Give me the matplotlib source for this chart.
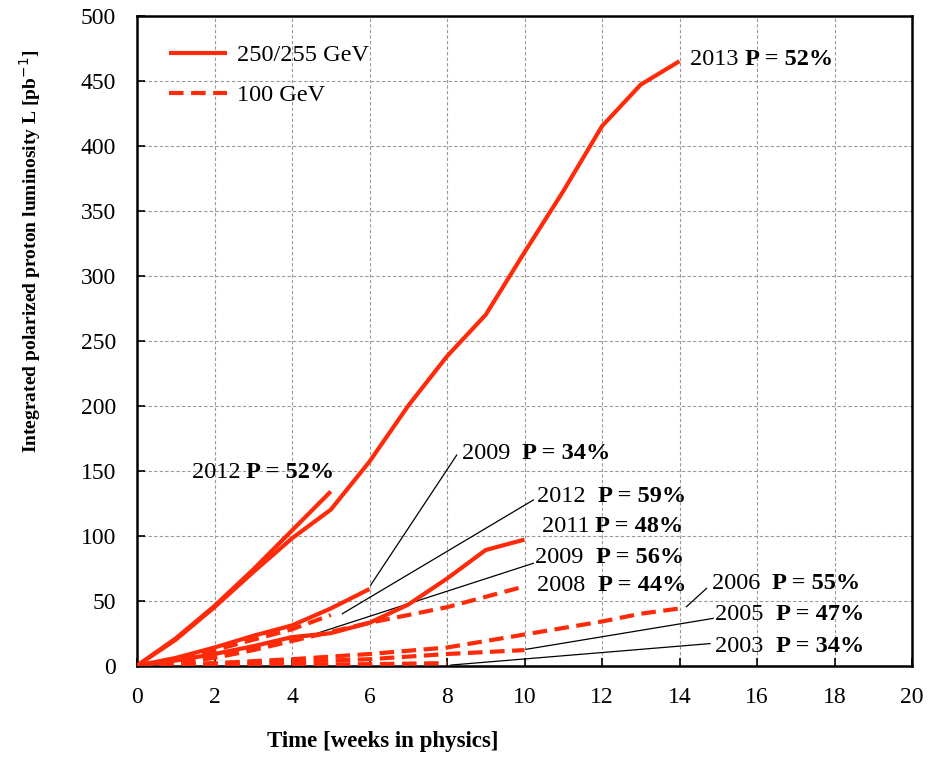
import matplotlib
matplotlib.use("Agg")
import matplotlib.pyplot as plt

plt.rcParams['font.family'] = ['Liberation Serif', 'DejaVu Serif']

RED = '#ff2a0a'

# ---- data (weeks, integrated luminosity pb^-1) ----
w_2013 = [0, 1, 2, 3, 4, 5, 6, 7, 8, 9, 10, 11, 12, 13, 14]
l_2013 = [0, 20, 45, 72, 98, 120, 157, 200, 238, 270, 318, 365, 415, 447, 465]

w_2012a = [0, 1, 2, 3, 4, 5]
l_2012a = [0, 21, 46, 74, 104, 134]

w_2009a = [0, 1, 2, 3, 4, 5, 6]
l_2009a = [0, 6, 14, 23, 31, 44, 59]

w_2011 = [0, 1, 2, 3, 4, 5, 6, 7, 8, 9, 10]
l_2011 = [0, 4, 9, 15, 22, 25, 33, 47, 67, 89, 97]

w_2012b = [0, 1, 2, 3, 4, 5]
l_2012b = [0, 5, 12, 20, 28, 39]

w_2009b = [0, 1, 2, 3, 4.2]
l_2009b = [0, 4, 9, 14, 20.5]

w_2008 = [0, 1, 2, 3, 4, 5, 6, 7, 8, 9, 10]
l_2008 = [0, 2, 6, 12, 19, 26, 33, 39, 45, 53, 61]

w_2006 = [0, 2, 4, 6, 8, 10, 12, 13, 14]
l_2006 = [0, 2, 5, 9, 14, 24, 34, 40, 44]

w_2005 = [0, 2, 4, 6, 8, 10]
l_2005 = [0, 1, 3, 5, 9, 12]

w_2003 = [0, 2, 4, 6, 8]
l_2003 = [0, 0.3, 0.8, 1.2, 2]

solid_runs = [(w_2013, l_2013), (w_2012a, l_2012a), (w_2009a, l_2009a), (w_2011, l_2011)]
dashed_runs = [(w_2012b, l_2012b), (w_2009b, l_2009b), (w_2008, l_2008),
               (w_2006, l_2006), (w_2005, l_2005), (w_2003, l_2003)]

label_years = ['2013', '2012', '2009 ', '2012 ', '2011', '2009 ', '2008 ', '2006 ', '2005 ', '2003 ']
label_pols = ['P = 52%', 'P = 52%', 'P = 34%', 'P = 59%', 'P = 48%', 'P = 56%', 'P = 44%',
              'P = 55%', 'P = 47%', 'P = 34%']

x_ticks = [0, 2, 4, 6, 8, 10, 12, 14, 16, 18, 20]
y_ticks = [0, 50, 100, 150, 200, 250, 300, 350, 400, 450, 500]

# ---- layout ----
label_pos = [(14.27, 466), (1.41, 149), (8.38, 163), (10.33, 130), (10.44, 107),
             (10.27, 83), (10.33, 62), (14.83, 63), (14.92, 39), (14.92, 14.6)]
leaders = [((6.03, 62), (8.25, 162)),
           ((5.3, 40), (10.23, 127.5)),
           ((4.19, 20.5), (10.23, 78.8)),
           ((14.18, 45.4), (14.7, 59.5)),
           ((10.04, 12.6), (14.87, 36.4)),
           ((8.1, 0.5), (14.79, 17))]

fig = plt.figure(figsize=(9.31, 7.63), dpi=100)
ax = fig.add_axes([137/931, 1 - 665.7/763, 775/931, 650/763])

ax.set_xlim(0, 20)
ax.set_ylim(0, 500)
ax.set_xticks(x_ticks)
ax.set_yticks(y_ticks)
ax.grid(True, color='#9a9a9a', linestyle=(0, (3, 2)), linewidth=0.8)
ax.set_axisbelow(True)

for (a, b), (c, d) in leaders:
    ax.plot([a, c], [b, d], color='black', lw=0.9, zorder=2)

for i, (w, l) in enumerate(solid_runs):
    ax.plot(w, l, color=RED, lw=3.0, solid_capstyle='butt', zorder=3,
            label='250/255 GeV' if i == 0 else None)
for i, (w, l) in enumerate(dashed_runs):
    ax.plot(w, l, color=RED, lw=3.0, dashes=(3.5, 1.8), zorder=3,
            label='100 GeV' if i == 0 else None)

for yr, pol, (x, y) in zip(label_years, label_pols, label_pos):
    t = ax.text(x, y, yr + ' ', fontsize=17.5, va='center', ha='left', zorder=4)
    ax.annotate(pol, xy=(1, 0), xycoords=t, va='bottom', ha='left',
                fontsize=17.5, fontweight='bold', zorder=4)

leg = ax.legend(loc='upper left', bbox_to_anchor=(0.013, 0.99), frameon=False,
                fontsize=17.5, handlelength=2.4, handletextpad=0.4, labelspacing=0.75)

ax.tick_params(direction='in', length=6, width=1.2, labelsize=17, pad=15)
for s in ax.spines.values():
    s.set_linewidth(1.8)
    s.set_color('black')

ax.set_xlabel('Time [weeks in physics]', fontsize=16.5, fontweight='bold')
ax.xaxis.set_label_coords(0.317, -0.1)
fig.text(30/931, 1 - 251/763, 'Integrated polarized proton luminosity L [pb$^{-1}$]',
         rotation=90, ha='center', va='center', fontsize=14, fontweight='bold')

fig.savefig('out.png', dpi=100)
